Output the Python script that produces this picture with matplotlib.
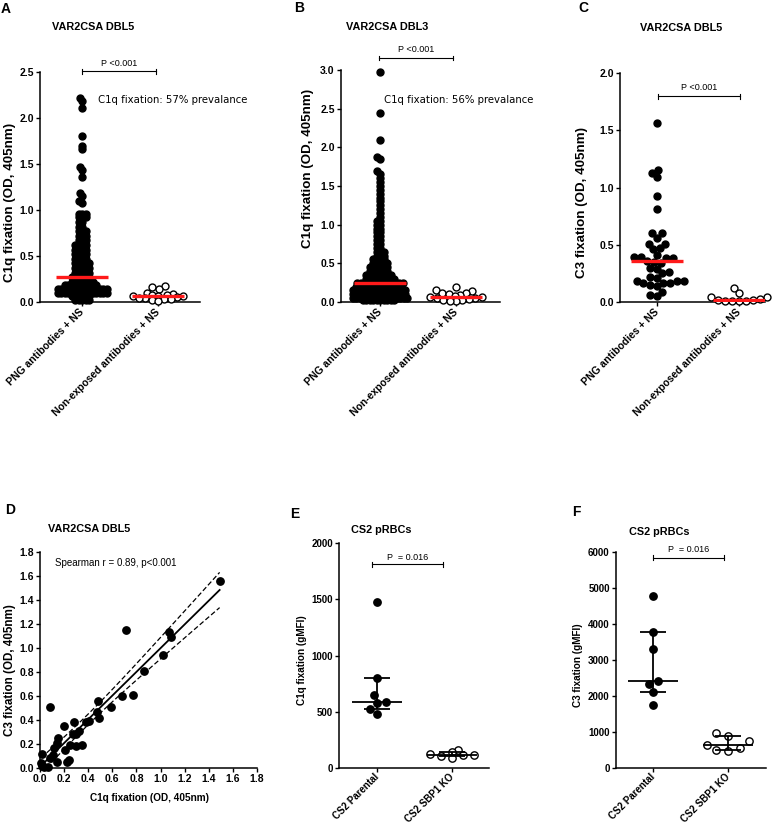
import numpy as np
import matplotlib
matplotlib.use('Agg')
import matplotlib.pyplot as plt

plt.rcParams['font.family'] = ['Liberation Sans', 'DejaVu Sans']
plt.rcParams['font.weight'] = 'bold'

# ---- data ----
# A: C1q fixation, VAR2CSA DBL5
a_levels = [0.02, 0.06, 0.10, 0.14, 0.18, 0.22, 0.27, 0.32, 0.37, 0.42, 0.47,
            0.52, 0.57, 0.62, 0.67, 0.72, 0.77, 0.82, 0.87, 0.92, 0.96]
a_counts = [5, 6, 16, 20, 10, 7, 6, 5, 5, 5, 4, 4, 4, 4, 3, 3, 3, 2, 2, 3, 3]
a_high = [2.22, 2.19, 2.11, 1.80, 1.70, 1.66, 1.47, 1.44, 1.36, 1.18, 1.15, 1.10, 1.08]
a_nonexp = [0.17, 0.16, 0.14, 0.10, 0.09, 0.08, 0.08, 0.07, 0.07, 0.06, 0.05,
            0.04, 0.04, 0.03, 0.03, 0.02, 0.01]

# B: C1q fixation, VAR2CSA DBL3
b_levels = [0.02, 0.05, 0.10, 0.15, 0.20, 0.24, 0.30, 0.35, 0.40, 0.45, 0.50,
            0.55, 0.60, 0.65, 0.70, 0.75, 0.80, 0.85, 0.90, 0.95, 1.00, 1.05,
            1.10, 1.15, 1.20, 1.25, 1.30, 1.35, 1.40, 1.45, 1.50, 1.55, 1.60]
b_counts = [10, 14, 16, 16, 14, 14, 9, 8, 6, 6, 5, 4, 3, 3, 2, 2, 2, 2, 2, 2,
            2, 2, 1, 1, 1, 1, 1, 1, 1, 1, 1, 1, 1]
b_high = [2.97, 2.45, 2.10, 1.88, 1.85, 1.69, 1.66]
b_nonexp = [0.20, 0.15, 0.14, 0.12, 0.11, 0.10, 0.09, 0.08, 0.07, 0.06, 0.05,
            0.05, 0.04, 0.03, 0.02, 0.01, 0.01]

# C: C3 fixation, VAR2CSA DBL5
c_png = [1.56, 1.15, 1.13, 1.09, 0.93, 0.81, 0.60, 0.60, 0.56, 0.51, 0.51, 0.47,
         0.46, 0.41, 0.39, 0.39, 0.38, 0.38, 0.36, 0.35, 0.34, 0.30, 0.29, 0.26,
         0.25, 0.22, 0.21, 0.18, 0.18, 0.18, 0.17, 0.17, 0.17, 0.15, 0.14, 0.09,
         0.06, 0.05]
c_nonexp = [0.12, 0.08, 0.04, 0.04, 0.03, 0.02, 0.02, 0.01, 0.01, 0.01, 0.01]

# D: C1q vs C3
d_c1q = [1.49, 0.71, 1.07, 1.09, 1.02, 0.86, 0.68, 0.77, 0.48, 0.59, 0.08, 0.47,
         0.49, 0.38, 0.41, 0.28, 0.20, 0.30, 0.32, 0.27, 0.35, 0.15, 0.14, 0.12,
         0.25, 0.21, 0.30, 0.02, 0.11, 0.08, 0.24, 0.22, 0.14, 0.01, 0.03, 0.07, 0.02]
d_c3 = [1.56, 1.15, 1.13, 1.09, 0.94, 0.81, 0.60, 0.61, 0.56, 0.51, 0.51, 0.47,
        0.42, 0.38, 0.39, 0.38, 0.35, 0.28, 0.31, 0.28, 0.19, 0.25, 0.21, 0.17,
        0.19, 0.15, 0.18, 0.12, 0.11, 0.08, 0.07, 0.05, 0.05, 0.04, 0.01, 0.01, 0.02]

# E / F: CS2 pRBCs
e_parental = [1480, 800, 650, 585, 575, 523, 477]
e_ko = [160, 145, 125, 117, 112, 108, 85]
f_parental = [4790, 3790, 3300, 2420, 2330, 2100, 1750]
f_ko = [970, 900, 760, 650, 560, 510, 480]

png_labels = ['PNG antibodies + NS', 'Non-exposed antibodies + NS']
cs2_labels = ['CS2 Parental', 'CS2 SBP1 KO']

a_png = np.concatenate([np.repeat(a_levels, a_counts), a_high])
b_png = np.concatenate([np.repeat(b_levels, b_counts), b_high])

# ---- layout helpers (pixel based) ----
W, H = 776, 826
fig = plt.figure(figsize=(W / 100, H / 100), dpi=100)
TICK = 7.5


def px(x, y):
    return x / W, 1 - y / H


def add_ax(left, top, right, bottom):
    return fig.add_axes([left / W, 1 - bottom / H, (right - left) / W, (bottom - top) / H])


def style(ax, size=TICK):
    for sp in ['top', 'right']:
        ax.spines[sp].set_visible(False)
    for sp in ['left', 'bottom']:
        ax.spines[sp].set_linewidth(1.1)
    ax.tick_params(direction='out', length=3, width=1.0, labelsize=size, pad=1.5)


def swarm(vals, ypu, s, maxw):
    y = np.asarray(vals, float) * ypu
    xs = np.zeros(len(y))
    done = []
    for i in np.argsort(y, kind='stable'):
        d = s
        while True:
            near = [j for j in done if abs(y[j] - y[i]) < d]
            cands = [0.0]
            for j in near:
                dx = np.sqrt(d * d - (y[j] - y[i]) ** 2)
                cands += [xs[j] - dx, xs[j] + dx]
            cands.sort(key=lambda c: (abs(c), c))
            pos = None
            for c in cands:
                if abs(c) > maxw + 1e-9:
                    break
                if all((xs[j] - c) ** 2 + (y[j] - y[i]) ** 2 >= d * d - 1e-6 for j in near):
                    pos = c
                    break
            if pos is not None:
                break
            d *= 0.85
        xs[i] = pos
        done.append(i)
    return xs


def cat_panel(left, top, right, bottom, c0, c1, ymax, yticks, labels, size=TICK, xpad=3):
    ax = add_ax(left, top, right, bottom)
    u = c1 - c0
    ax.set_xlim((left - c0) / u, (right - c0) / u)
    ax.set_ylim(0, ymax)
    ax.set_yticks(yticks)
    ax.set_xticks([0, 1], labels, rotation=45, ha='right', va='center',
                  rotation_mode='anchor')
    style(ax, size)
    ax.tick_params(axis='x', pad=xpad)
    return ax, u, (bottom - top) / ymax


def group(ax, xc, vals, u, ypu, s, maxw, filled, size=25):
    off = swarm(vals, ypu, s, maxw) / u
    ax.scatter(xc + off, vals, s=size, c='black' if filled else 'white',
               edgecolors='black', linewidths=1.0, zorder=3, clip_on=False)


def red_median(ax, xc, vals, u):
    m = np.median(vals)
    hw = 26 / u
    ax.plot([xc - hw, xc + hw], [m, m], color='#ff1a1a', lw=2.4, zorder=5,
            solid_capstyle='butt')


def iqr_bars(ax, xc, vals, u):
    q1, q2, q3 = np.percentile(vals, [25, 50, 75], method='weibull')
    hw, cw = 25 / u, 13 / u
    kw = dict(color='black', lw=1.3, zorder=4, solid_capstyle='butt')
    ax.plot([xc - hw, xc + hw], [q2, q2], **kw)
    ax.plot([xc - cw, xc + cw], [q1, q1], **kw)
    ax.plot([xc - cw, xc + cw], [q3, q3], **kw)
    ax.plot([xc, xc], [q1, q3], **kw)


def bracket(ax, x0px, x1px, c0, u, ypu, bottom, line_py, text_py, text):
    x0, x1 = (x0px - c0) / u, (x1px - c0) / u
    y = (bottom - line_py) / ypu
    cap = 2.5 / ypu
    kw = dict(color='black', lw=0.8, clip_on=False)
    ax.plot([x0, x1], [y, y], **kw)
    ax.plot([x0, x0], [y - cap, y + cap], **kw)
    ax.plot([x1, x1], [y - cap, y + cap], **kw)
    ax.text((x0 + x1) / 2, (bottom - text_py) / ypu, text, ha='center', va='center',
            fontsize=6.5, fontweight='normal', clip_on=False)


def label(x, y, s, size=7.8, rot=0, weight='bold', family=None, ha='center'):
    kw = {}
    if family:
        kw['family'] = family
    fig.text(*px(x, y), s, fontsize=size, rotation=rot, ha=ha, va='center',
             fontweight=weight, **kw)


fmt1 = matplotlib.ticker.FormatStrFormatter('%.1f')

# ---- A ----
ax, u, ypu = cat_panel(40, 72, 200, 302, 82, 158, 2.5, np.arange(0, 2.51, 0.5), png_labels)
ax.yaxis.set_major_formatter(fmt1)
group(ax, 0, a_png, u, ypu, 3.5, 26, True)
group(ax, 1, a_nonexp, u, ypu, 6.5, 27, False)
red_median(ax, 0, a_png, u)
red_median(ax, 1, a_nonexp, u)
bracket(ax, 82, 156, 82, u, ypu, 302, 71, 63, 'P <0.001')
label(98, 100, 'C1q fixation: 57% prevalance', size=7.25, weight='normal',
      family='DejaVu Sans', ha='left')

# ---- B ----
ax, u, ypu = cat_panel(341, 70, 500, 302, 380, 456, 3.0, np.arange(0, 3.01, 0.5), png_labels)
ax.yaxis.set_major_formatter(fmt1)
group(ax, 0, b_png, u, ypu, 3.5, 27, True)
group(ax, 1, b_nonexp, u, ypu, 6.5, 27, False)
red_median(ax, 0, b_png, u)
red_median(ax, 1, b_nonexp, u)
bracket(ax, 379, 453, 380, u, ypu, 302, 58, 50, 'P <0.001')
label(384, 100, 'C1q fixation: 56% prevalance', size=7.25, weight='normal',
      family='DejaVu Sans', ha='left')

# ---- C ----
ax, u, ypu = cat_panel(620, 73, 765, 302, 657, 739, 2.0, np.arange(0, 2.01, 0.5), png_labels)
ax.yaxis.set_major_formatter(fmt1)
group(ax, 0, c_png, u, ypu, 7, 32, True)
group(ax, 1, c_nonexp, u, ypu, 7, 30, False)
red_median(ax, 0, c_png, u)
red_median(ax, 1, c_nonexp, u)
bracket(ax, 658, 740, 657, u, ypu, 302, 96, 87, 'P <0.001')

# ---- D ----
ax = add_ax(40, 552, 257, 768)
ax.set_xlim(0, 1.8)
ax.set_ylim(0, 1.8)
ticks = np.round(np.arange(0, 1.81, 0.2), 1)
ax.set_xticks(ticks)
ax.set_yticks(ticks)
ax.xaxis.set_major_formatter(fmt1)
ax.yaxis.set_major_formatter(matplotlib.ticker.FormatStrFormatter('%.1f'))
style(ax)
xd, yd = np.array(d_c1q), np.array(d_c3)
ax.scatter(xd, yd, s=28, c='black', zorder=3, clip_on=False)
slope, icpt = np.polyfit(xd, yd, 1)
xx = np.linspace(xd.min(), xd.max(), 100)
fit = slope * xx + icpt
n = len(xd)
sres = np.sqrt(np.sum((yd - (slope * xd + icpt)) ** 2) / (n - 2))
se = sres * np.sqrt(1 / n + (xx - xd.mean()) ** 2 / np.sum((xd - xd.mean()) ** 2))
ax.plot(xx, fit, color='black', lw=1.3, zorder=4)
ax.plot(xx, fit + 2.03 * se, color='black', lw=0.9, ls=(0, (4, 2)), zorder=4)
ax.plot(xx, fit - 2.03 * se, color='black', lw=0.9, ls=(0, (4, 2)), zorder=4)
ax.text((55 - 40) / 120.6, (768 - 563) / 120, 'Spearman r = 0.89, p<0.001',
        fontsize=7, fontweight='normal', va='center', ha='left')
label(149, 798, 'C1q fixation (OD, 405nm)', size=7.2)

# ---- E ----
ax, u, ypu = cat_panel(339, 543, 489, 768, 377, 452, 2000, np.arange(0, 2001, 500),
                       cs2_labels, size=7, xpad=2)
group(ax, 0, e_parental, u, ypu, 9, 25, True, size=28)
group(ax, 1, e_ko, u, ypu, 11, 22, False, size=28)
iqr_bars(ax, 0, e_parental, u)
iqr_bars(ax, 1, e_ko, u)
bracket(ax, 372, 443, 377, u, ypu, 768, 564, 557, 'P  = 0.016')

# ---- F ----
ax, u, ypu = cat_panel(616, 552, 766, 768, 653, 728, 6000, np.arange(0, 6001, 1000),
                       cs2_labels, size=7, xpad=2)
group(ax, 0, f_parental, u, ypu, 9, 25, True, size=28)
group(ax, 1, f_ko, u, ypu, 12, 22, False, size=28)
iqr_bars(ax, 0, f_parental, u)
iqr_bars(ax, 1, f_ko, u)
bracket(ax, 653, 724, 653, u, ypu, 768, 557.7, 550, 'P  = 0.016')

# ---- titles, y labels, panel letters ----
label(93, 27, 'VAR2CSA DBL5')
label(387, 27, 'VAR2CSA DBL3')
label(681, 28, 'VAR2CSA DBL5')
label(89, 529, 'VAR2CSA DBL5')
label(381, 530, 'CS2 pRBCs')
label(659, 532, 'CS2 pRBCs')

label(10, 202, 'C1q fixation (OD, 405nm)', size=9.6, rot=90)
label(308, 168, 'C1q fixation (OD, 405nm)', size=9.6, rot=90)
label(582, 202, 'C3 fixation (OD, 405nm)', size=9.6, rot=90)
label(10, 670, 'C3 fixation (OD, 405nm)', size=8.4, rot=90)
label(302, 660, 'C1q fixation (gMFI)', size=7.2, rot=90)
label(578, 665, 'C3 fixation (gMFI)', size=7.2, rot=90)

for letter, x, y in [('A', 1, 9), ('B', 294, 8), ('C', 578, 8),
                     ('D', 5, 510), ('E', 290, 514), ('F', 572, 512)]:
    label(x, y, letter, size=10, ha='left')

fig.savefig('out.png', dpi=100)
